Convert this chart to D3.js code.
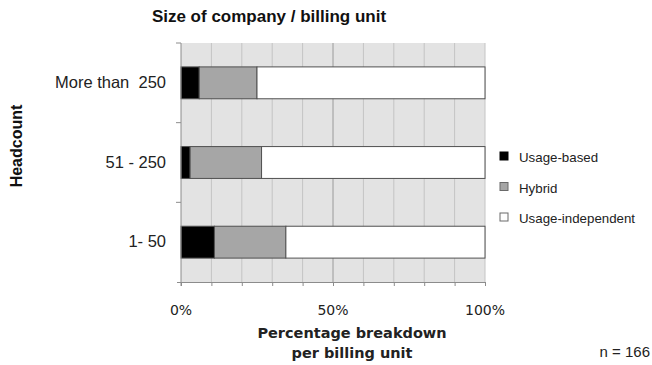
<!DOCTYPE html>
<html>
<head>
<meta charset="utf-8">
<script src="https://cdn.jsdelivr.net/npm/d3@7/dist/d3.min.js"></script>
<style>
  html, body { margin: 0; padding: 0; background: #fff; }
  svg { display: block; }
</style>
</head>
<body>
<svg id="chart" width="652" height="365"></svg>
<script>
// Company size groups, top to bottom
const categories = ["More than 250", "51 - 250", "1- 50"];
// Share of each billing model (%) per group
const usageBased = [6, 3, 11];
const hybrid = [19, 23.5, 23.5];
const usageIndependent = [75, 73.5, 65.5];
const seriesNames = ["Usage-based", "Hybrid", "Usage-independent"];
const seriesColors = ["#000000", "#a6a6a6", "#ffffff"];
const xTicks = [0, 50, 100];

const svg = d3.select("#chart");
const plotL = 181, plotR = 485, plotT = 43, plotB = 282;

const x = d3.scaleLinear().domain([0, 100]).range([plotL, plotR]);
const y = d3.scaleBand().domain(categories).range([plotT, plotB])
  .paddingInner(0.6).paddingOuter(0.3);

// Plot background
svg.append("rect")
  .attr("x", plotL).attr("y", plotT)
  .attr("width", plotR - plotL).attr("height", plotB - plotT)
  .attr("fill", "#e3e3e3");

// Vertical gridlines every 10 %
svg.append("g").selectAll("line")
  .data(d3.range(10, 101, 10))
  .join("line")
  .attr("x1", d => x(d)).attr("x2", d => x(d))
  .attr("y1", plotT).attr("y2", plotB)
  .attr("stroke", d => d === 50 ? "#9a9a9a" : "#c4c4c4")
  .attr("stroke-width", 1);

// Stacked bars
const rows = categories.map((c, i) => ({
  cat: c, vals: [usageBased[i], hybrid[i], usageIndependent[i]]
}));
const segs = [];
rows.forEach(r => {
  let acc = 0;
  r.vals.forEach((v, k) => {
    segs.push({ cat: r.cat, x0: acc, x1: acc + v, k });
    acc += v;
  });
});
svg.append("g").selectAll("rect")
  .data(segs)
  .join("rect")
  .attr("x", d => x(d.x0))
  .attr("y", d => y(d.cat))
  .attr("width", d => x(d.x1) - x(d.x0))
  .attr("height", y.bandwidth())
  .attr("fill", d => seriesColors[d.k])
  .attr("stroke", "#505050")
  .attr("stroke-width", 1);

// Left axis: line with ticks at band boundaries
const yAxis = svg.append("g");
yAxis.append("line")
  .attr("x1", plotL).attr("x2", plotL)
  .attr("y1", plotT).attr("y2", plotB + 4)
  .attr("stroke", "#8c8c8c");
const bounds = [plotT].concat(categories.map(c => y(c) - y.step() * y.paddingOuter() + y.step()));
yAxis.selectAll("line.tick")
  .data(bounds.slice(0, 3))
  .join("line")
  .attr("class", "tick")
  .attr("x1", plotL - 5).attr("x2", plotL)
  .attr("y1", d => d).attr("y2", d => d)
  .attr("stroke", "#8c8c8c");

// Category labels
svg.append("g").selectAll("text")
  .data(categories)
  .join("text")
  .attr("x", 166)
  .attr("y", d => y(d) + y.bandwidth() / 2 + 5)
  .attr("text-anchor", "end")
  .attr("font-family", "Liberation Sans, Arial, sans-serif")
  .attr("font-size", 16.5)
  .attr("fill", "#222")
  .text(d => d.replace("than 250", "than\u00a0\u00a0250"));

// Bottom axis
const xAxis = svg.append("g").attr("transform", `translate(0,${plotB})`)
  .call(d3.axisBottom(x).tickValues(d3.range(0, 101, 10)).tickSize(4).tickFormat(""));
xAxis.select(".domain").attr("stroke", "#8c8c8c").attr("d", `M${plotL - 4},0.5H${plotR}`);
xAxis.selectAll(".tick line").attr("stroke", "#8c8c8c");

svg.append("g").selectAll("text")
  .data(xTicks)
  .join("text")
  .attr("x", d => x(d))
  .attr("y", 315)
  .attr("text-anchor", "middle")
  .attr("font-family", "DejaVu Sans, Verdana, sans-serif")
  .attr("font-size", 14)
  .attr("fill", "#222")
  .text(d => d + "%");

// Axis titles
const xt = svg.append("text")
  .attr("text-anchor", "middle")
  .attr("font-family", "DejaVu Sans, Verdana, sans-serif")
  .attr("font-weight", "bold")
  .attr("font-size", 14.5)
  .attr("fill", "#222");
xt.append("tspan").attr("x", 352).attr("y", 338).text("Percentage breakdown");
xt.append("tspan").attr("x", 352).attr("y", 358).text("per billing unit");

svg.append("text")
  .attr("transform", "translate(22,146) rotate(-90)")
  .attr("text-anchor", "middle")
  .attr("font-family", "Liberation Sans, Arial, sans-serif")
  .attr("font-weight", "bold")
  .attr("font-size", 16)
  .attr("fill", "#111")
  .text("Headcount");

// Title
svg.append("text")
  .attr("x", 269).attr("y", 22)
  .attr("text-anchor", "middle")
  .attr("font-family", "Liberation Sans, Arial, sans-serif")
  .attr("font-weight", "bold")
  .attr("font-size", 17)
  .attr("fill", "#111")
  .text("Size of company / billing unit");

// Legend
const legend = svg.append("g").selectAll("g")
  .data(seriesNames)
  .join("g")
  .attr("transform", (d, i) => `translate(500,${152 + i * 30.5})`);
legend.append("rect")
  .attr("width", 8).attr("height", 8)
  .attr("fill", (d, i) => seriesColors[i])
  .attr("stroke", (d, i) => i === 0 ? "#000" : "#6a6a6a")
  .attr("stroke-width", 1);
legend.append("text")
  .attr("x", 19).attr("y", 10)
  .attr("font-family", "Liberation Sans, Arial, sans-serif")
  .attr("font-size", 13.3)
  .attr("fill", "#222")
  .text(d => d);

// Sample size
svg.append("text")
  .attr("x", 650).attr("y", 357)
  .attr("text-anchor", "end")
  .attr("font-family", "Liberation Sans, Arial, sans-serif")
  .attr("font-size", 15)
  .attr("fill", "#222")
  .text("n = 166");
</script>
</body>
</html>
